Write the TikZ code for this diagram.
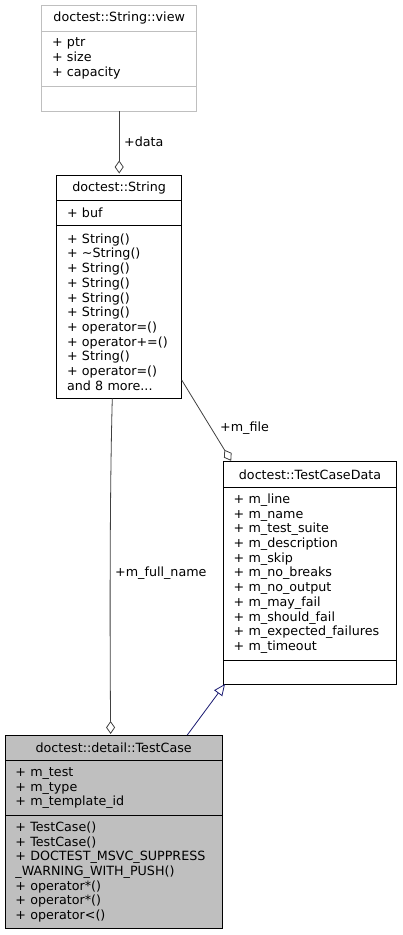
\documentclass[tikz,border=0pt]{standalone}
\usepackage{fontspec}
\setmainfont{DejaVu Sans}
\usepackage{tikz}
\usetikzlibrary{positioning, arrows.meta}
\definecolor{edgegray}{RGB}{64,64,64}
\definecolor{boxgray}{RGB}{191,191,191}
\definecolor{navyblue}{RGB}{25,25,112}
\tikzset{
  font={\fontsize{12.7pt}{14.7pt}\selectfont},
  cls/.style={draw, rectangle, line width=0.9pt, inner xsep=10.4pt, inner ysep=0pt,
    outer sep=0pt, align=left, anchor=north},
  viewbox/.style={cls, draw=boxgray, minimum width=155pt, text width=134.2pt},
  strbox/.style={cls, minimum width=125pt, text width=104.2pt},
  databox/.style={cls, minimum width=173.4pt, text width=152.6pt},
  casebox/.style={cls, fill=boxgray, minimum width=217.3pt, text width=196.5pt},
  lbl/.style={inner sep=0pt, anchor=west},
  aggr/.style={draw=edgegray, line width=0.8pt, -{Diamond[open, length=13pt, width=9pt]}},
  inherit/.style={draw=navyblue, line width=0.8pt, -{Triangle[open, length=11.5pt, width=10pt]}}}
\begin{document}
\begin{tikzpicture}[x=1pt, y=-1pt]
\useasboundingbox (0,0) rectangle (402,935);

\node[viewbox, align=center, minimum height=25.3pt] (view) at (119.2,5.7) {doctest::String::view};
\node[viewbox, minimum height=55pt, below=0pt of view] (viewattr) {+ ptr\\+ size\\+ capacity};
\node[viewbox, minimum height=25pt, below=0pt of viewattr] (viewops) {};

\node[strbox, align=center, minimum height=25.7pt] (Stitle) at (119.2,175) {doctest::String};
\node[strbox, minimum height=25pt, below=0pt of Stitle] (Sattr) {+ buf};
\node[strbox, minimum height=172.6pt, below=0pt of Sattr] (Sops)
  {+ String()\\+ \textasciitilde String()\\+ String()\\+ String()\\+ String()\\+ String()\\
   + operator=()\\+ operator+=()\\+ String()\\+ operator=()\\and 8 more...};

\node[databox, align=center, minimum height=25.6pt] (Dtitle) at (310,461.7) {doctest::TestCaseData};
\node[databox, minimum height=172.7pt, below=0pt of Dtitle] (Dattr)
  {+ m\_line\\+ m\_name\\+ m\_test\_suite\\+ m\_description\\+ m\_skip\\+ m\_no\_breaks\\
   + m\_no\_output\\+ m\_may\_fail\\+ m\_should\_fail\\+~m\_expected\_failures\\+ m\_timeout};
\node[databox, minimum height=24pt, below=0pt of Dattr] (Dops) {};

\node[casebox, align=center, minimum height=25.7pt] (Ttitle) at (113.65,735) {doctest::detail::TestCase};
\node[casebox, minimum height=55pt, below=0pt of Ttitle] (Tattr) {+ m\_test\\+ m\_type\\+ m\_template\_id};
\node[casebox, minimum height=112.6pt, below=0pt of Tattr] (Tops)
  {+ TestCase()\\+ TestCase()\\+~DOCTEST\_MSVC\_SUPPRESS\\\_WARNING\_WITH\_PUSH()\\
   + operator*()\\+ operator*()\\+ operator<()};

\draw[aggr, shorten >=1.5pt] (viewops.south) -- (Stitle.north);
\draw[aggr, shorten >=1pt] ([xshift=-6.9pt]Sops.south) .. controls (109.5,500) and (110,650) .. ([xshift=-3pt]Ttitle.north);
\draw[aggr, shorten >=1pt] ([yshift=18.3pt]Sops.south east) -- ([xshift=8.4pt]Dtitle.north west);
\draw[inherit] ([xshift=182.3pt]Ttitle.north west) -- ([xshift=1.7pt]Dops.south west);

\node[lbl] (ldata) at (124,142) {+data};
\node[lbl] (lfile) at (220,428) {+m\_file};
\node[lbl] (lname) at (115,572.7) {+m\_full\_name};
\end{tikzpicture}
\end{document}
